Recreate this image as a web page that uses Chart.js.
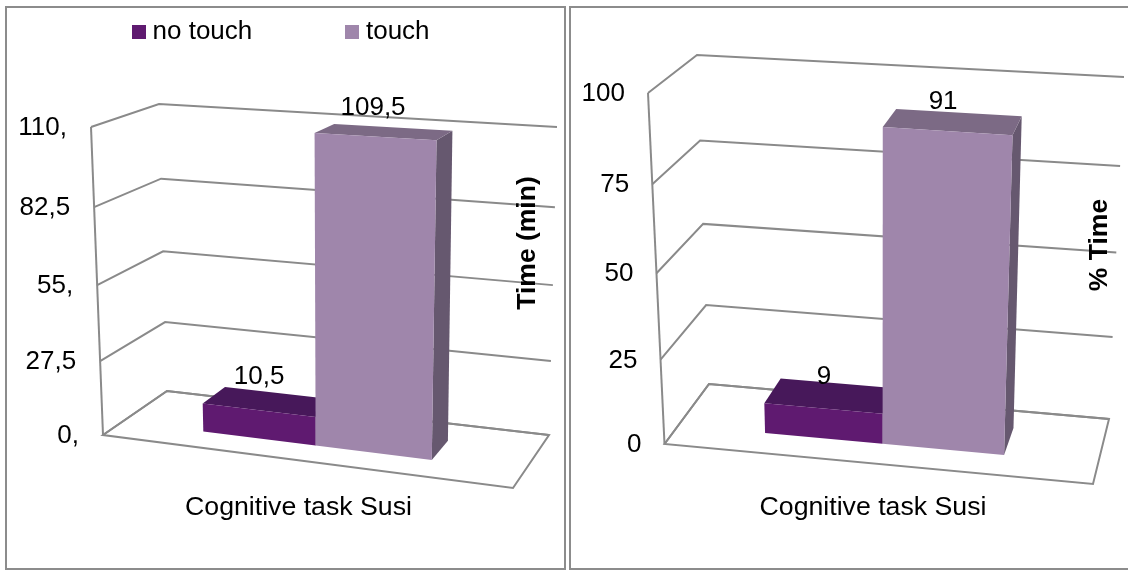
<!DOCTYPE html>
<html>
<head>
<meta charset="utf-8">
<title>Cognitive task Susi</title>
<script src="https://cdn.jsdelivr.net/npm/chart.js@4"></script>
<style>
  html, body { margin: 0; padding: 0; background: #fff; }
  body { position: relative; width: 1128px; height: 570px; overflow: hidden; }
  .frame { position: absolute; box-sizing: border-box; border: 2px solid #8c8c8c; }
  #frameTime { left: 5px; top: 6px; width: 561px; height: 564px; }
  #framePct { left: 569px; top: 6px; width: 570px; height: 564px; }
  canvas { position: absolute; top: 0; }
  #chartTime { left: 0; }
  #chartPct { left: 568px; }
</style>
</head>
<body>
<div class="frame" id="frameTime"></div>
<div class="frame" id="framePct"></div>
<canvas id="chartTime" width="568" height="570"></canvas>
<canvas id="chartPct" width="560" height="570"></canvas>
<script>
let categories = ["Cognitive task Susi"];
let seriesNames = ["no touch", "touch"];

let timeNoTouch = [10.5];
let timeTouch = [109.5];
let timeTicks = ["0,", "27,5", "55,", "82,5", "110,"];

let pctNoTouch = [9];
let pctTouch = [91];
let pctTicks = ["0", "25", "50", "75", "100"];

const FONT = "'Liberation Sans', Arial, sans-serif";
const GRID = "#8a8a8a";
const FRONT = ["#5f1a70", "#9f86ab"];
const TOP = ["#47185a", "#7c6a85"];
const SIDE = ["#3a1249", "#66586f"];

// the 3D box the chart sits in: floor and ceiling corners, in canvas pixels
// fl/fr = near left/right, bl/br = far left/right
function place(box, u, v, w) {
  // perspective squeezes the far end of each direction a little
  let across = u / (1 + 0.06 * (1 - u));
  let lift = v / (1 + 0.055 * (1 - v));
  let mix = (a, b, t) => a + (b - a) * t;
  let corner = (axis) => {
    let floor = mix(mix(box.fl[axis], box.fr[axis], across), mix(box.bl[axis], box.br[axis], across), w);
    let ceil = mix(mix(box.flTop[axis], box.frTop[axis], across), mix(box.blTop[axis], box.brTop[axis], across), w);
    return mix(floor, ceil, lift);
  };
  return [corner(0), corner(1)];
}

function poly(ctx, points, fill) {
  ctx.beginPath();
  points.forEach((p, i) => (i ? ctx.lineTo(p[0], p[1]) : ctx.moveTo(p[0], p[1])));
  ctx.closePath();
  if (fill) {
    ctx.fillStyle = fill;
    ctx.fill();
  }
}

function path(ctx, points) {
  ctx.beginPath();
  points.forEach((p, i) => (i ? ctx.lineTo(p[0], p[1]) : ctx.moveTo(p[0], p[1])));
  ctx.stroke();
}

// fraction of the value axis height for a pixel on that axis
function heightOf(scale, pixel) {
  return (scale.bottom - pixel) / (scale.bottom - scale.top);
}

let box3d = {
  id: "box3d",
  beforeDatasetsDraw(chart, args, opts) {
    let ctx = chart.ctx;
    let y = chart.scales.y;
    let area = chart.chartArea;
    let box = opts.box;
    ctx.save();
    ctx.strokeStyle = GRID;
    ctx.lineWidth = 2;
    ctx.lineJoin = "miter";

    // floor outline
    poly(ctx, [box.fl, box.bl, box.br, box.fr]);
    ctx.stroke();

    // left edge of the side wall
    path(ctx, [place(box, 0, 0, 0), place(box, 0, 1, 0)]);

    // grid lines and value labels come from the axis ticks
    ctx.font = "26px " + FONT;
    ctx.fillStyle = "#000";
    ctx.textAlign = "right";
    ctx.textBaseline = "middle";
    y.ticks.forEach((tick) => {
      let v = heightOf(y, y.getPixelForValue(tick.value));
      let near = place(box, 0, v, 0);
      path(ctx, [near, place(box, 0, v, 1), place(box, 1, v, 1)]);
      ctx.fillText(tick.label, near[0] - opts.tickGap, near[1] + 1);
    });

    // bars, in series order so the later one covers the earlier one
    chart.data.datasets.forEach((ds, s) => {
      chart.getDatasetMeta(s).data.forEach((bar) => {
        let u0 = (bar.x - bar.width / 2 - area.left) / area.width + opts.shiftU;
        let u1 = (bar.x + bar.width / 2 - area.left) / area.width + opts.shiftU;
        let v = heightOf(y, bar.y);
        let w0 = opts.depth[0];
        let w1 = opts.depth[1];
        let p = (u, h, w) => place(box, u, h, w);
        poly(ctx, [p(u1, 0, w0), p(u1, 0, w1), p(u1, v, w1), p(u1, v, w0)], SIDE[s]);
        poly(ctx, [p(u0, v, w0), p(u0, v, w1), p(u1, v, w1), p(u1, v, w0)], TOP[s]);
        poly(ctx, [p(u0, 0, w0), p(u1, 0, w0), p(u1, v, w0), p(u0, v, w0)], FRONT[s]);
      });
    });
    ctx.restore();
  },
  // the flat bars are replaced by the boxes above
  beforeDatasetDraw() {
    return false;
  },
  afterDatasetsDraw(chart, args, opts) {
    let ctx = chart.ctx;
    let y = chart.scales.y;
    let area = chart.chartArea;
    let box = opts.box;
    ctx.save();
    ctx.fillStyle = "#000";
    ctx.textAlign = "center";
    ctx.textBaseline = "middle";
    ctx.font = "26px " + FONT;
    chart.data.datasets.forEach((ds, s) => {
      chart.getDatasetMeta(s).data.forEach((bar, i) => {
        let u = (bar.x - area.left) / area.width + opts.shiftU;
        let at = place(box, u, heightOf(y, bar.y), opts.depth[0]);
        let text = String(ds.data[i]).replace(".", ",");
        ctx.fillText(text, at[0] + opts.labelShift[s][0], at[1] + opts.labelShift[s][1]);
      });
    });

    // value axis name, rotated, sits inside the plot on the right
    ctx.font = "bold 26.5px " + FONT;
    ctx.translate(opts.title.x, opts.title.y);
    ctx.rotate(-Math.PI / 2);
    ctx.fillText(opts.title.text, 0, 0);
    ctx.restore();
  },
};

function swatch(color) {
  let c = document.createElement("canvas");
  c.width = 14;
  c.height = 14;
  let g = c.getContext("2d");
  g.fillStyle = color;
  g.fillRect(0, 0, 14, 14);
  return c;
}

function makeChart(id, a, b, ticks, max, step, padding, legendOn, box3dOpts) {
  return new Chart(document.getElementById(id), {
    type: "bar",
    plugins: [box3d],
    data: {
      labels: categories,
      datasets: [
        { label: seriesNames[0], data: a, backgroundColor: FRONT[0] },
        { label: seriesNames[1], data: b, backgroundColor: FRONT[1] },
      ],
    },
    options: {
      responsive: false,
      animation: false,
      layout: { padding: padding },
      datasets: { bar: { categoryPercentage: 0.57, barPercentage: 1 } },
      scales: {
        x: {
          grid: { display: false },
          border: { display: false },
          ticks: {
            color: "#000",
            padding: 0,
            maxRotation: 0,
            font: { family: FONT, size: 26.7 },
          },
        },
        y: {
          min: 0,
          max: max,
          grid: { display: false },
          border: { display: false },
          afterFit: (scale) => { scale.width = 0; },
          ticks: {
            display: false,
            stepSize: step,
            callback: (value, i) => ticks[i],
          },
        },
      },
      plugins: {
        tooltip: { enabled: false },
        box3d: box3dOpts,
        legend: {
          display: legendOn,
          position: "top",
          labels: {
            color: "#000",
            font: { family: FONT, size: 26 },
            usePointStyle: true,
            boxWidth: 1,
            padding: 13,
            generateLabels: (chart) =>
              chart.data.datasets.map((ds, i) => ({
                // the trailing blanks set the gap and centre the two entries
                text: ds.label + " ".repeat(i === 0 ? 12 : 4),
                pointStyle: swatch(FRONT[i]),
                datasetIndex: i,
                lineWidth: 0,
                fontColor: "#000",
              })),
          },
        },
      },
    },
  });
}

makeChart("chartTime", timeNoTouch, timeTouch, timeTicks, 110, 27.5,
  { top: 6, left: 100, right: 71, bottom: 46 }, true, {
    box: {
      fl: [103, 435], fr: [513, 488], bl: [167, 391], br: [549, 435],
      flTop: [91, 127], frTop: [523, 152], blTop: [159, 104], brTop: [557, 127],
    },
    depth: [0.31, 0.69],
    shiftU: -0.005,
    tickGap: 24,
    labelShift: [[0.5, -33.5], [-2, -29]],
    title: { text: "Time (min)", x: 528, y: 243 },
  });

makeChart("chartPct", pctNoTouch, pctTouch, pctTicks, 100, 25,
  { top: 20, left: 100, right: 50, bottom: 46 }, false, {
    box: {
      fl: [96.5, 444], fr: [525, 484], bl: [141, 384], br: [541, 419],
      flTop: [80, 93], frTop: [542, 122], blTop: [129, 55], brTop: [556, 77],
    },
    depth: [0.315, 0.735],
    shiftU: 0.001,
    tickGap: 23,
    labelShift: [[1, -32], [-4, -29.5]],
    title: { text: "% Time", x: 532, y: 245 },
  });
</script>
</body>
</html>
